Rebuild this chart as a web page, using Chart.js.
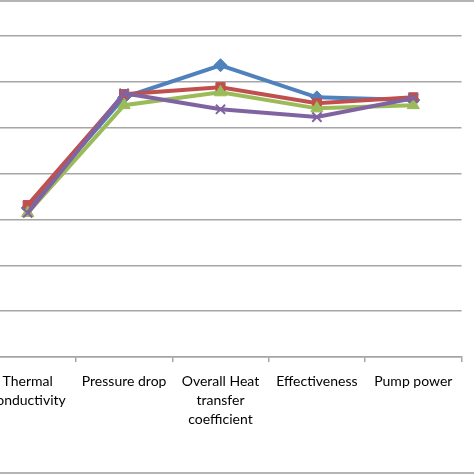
<!DOCTYPE html>
<html>
<head>
<meta charset="utf-8">
<script src="https://cdn.jsdelivr.net/npm/chart.js@4"></script>
<style>
  html, body { margin: 0; padding: 0; background: #fff; overflow: hidden; }
  body { width: 474px; height: 474px; position: relative; }
  #frame { position: absolute; left: 0; top: 0; width: 474px; height: 474px; box-sizing: border-box;
           border-top: 2px solid #b4b4b4; border-bottom: 2px solid #b4b4b4; pointer-events: none; z-index: 2; }
  #wrap { position: absolute; left: -40px; top: -20px; width: 514px; height: 494px; }
</style>
</head>
<body>
<div id="wrap"><canvas id="c"></canvas></div>
<div id="frame"></div>
<script>
const categories = [
  ["Thermal", "conductivity"],
  "Pressure drop",
  ["Overall Heat", "transfer", "coefficient"],
  "Effectiveness",
  "Pump power"
];
const seriesBlue   = [3.25, 5.66, 6.36, 5.66, 5.60];
const seriesRed    = [3.31, 5.73, 5.88, 5.53, 5.66];
const seriesGreen  = [3.14, 5.49, 5.77, 5.42, 5.49];
const seriesPurple = [3.14, 5.75, 5.40, 5.23, 5.64];

function ds(data, color, style, order, radius) {
  return {
    data: data,
    borderColor: color,
    backgroundColor: color,
    pointBackgroundColor: color,
    pointBorderColor: color,
    pointStyle: style,
    pointRadius: radius,
    pointBorderWidth: style === 'crossRot' ? 2 : 1,
    borderWidth: 4,
    tension: 0,
    order: order
  };
}

new Chart(document.getElementById('c'), {
  type: 'line',
  data: {
    labels: categories,
    datasets: [
      ds(seriesBlue, '#4F81BD', 'rectRot', 3, 6.5),
      ds(seriesRed, '#C0504D', 'rect', 2, 6.5),
      ds(seriesGreen, '#9BBB59', 'triangle', 1, 7),
      ds(seriesPurple, '#8064A2', 'crossRot', 0, 6.5)
    ]
  },
  options: {
    responsive: true,
    maintainAspectRatio: false,
    animation: false,
    layout: { padding: { left: 19.5, right: 12.5, top: 10, bottom: 0 } },
    plugins: { legend: { display: false }, tooltip: { enabled: false } },
    scales: {
      x: {
        offset: true,
        grid: { display: true, drawOnChartArea: false, drawTicks: true, tickLength: 5, color: '#a6a6a6', lineWidth: 1.5, offset: true },
        border: { display: true, color: '#a6a6a6', width: 1.5 },
        ticks: { color: '#000', font: { family: 'Lato', size: 14, lineHeight: 1.36 }, padding: 10, maxRotation: 0, autoSkip: false },
        afterFit: function (s) { s.height = 117; }
      },
      y: {
        min: 0, max: 8,
        ticks: { display: false, stepSize: 1 },
        grid: { color: '#a6a6a6', lineWidth: 1.5, drawTicks: false },
        border: { display: false },
        afterFit: function (s) { s.width = 0; }
      }
    }
  }
});
</script>
</body>
</html>
